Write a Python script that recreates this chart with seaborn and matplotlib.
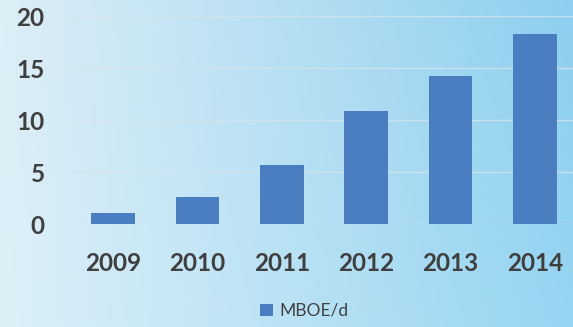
import numpy as np
import pandas as pd
import matplotlib
matplotlib.use("Agg")
import matplotlib.pyplot as plt
import seaborn as sns
from matplotlib.patches import Patch

years = ["2009", "2010", "2011", "2012", "2013", "2014"]
values = [1.1, 2.6, 5.7, 10.9, 14.2, 18.3]
series_name = "MBOE/d"
y_ticks = [0, 5, 10, 15, 20]

sns.set_theme(style="white")
plt.rcParams["font.family"] = ["Lato", "DejaVu Sans"]

df = pd.DataFrame({"year": years, "value": values})

W, H = 573, 327
fig = plt.figure(figsize=(W / 100, H / 100), dpi=100)

# soft light-blue gradient background, brighter toward the right
bg = fig.add_axes([0, 0, 1, 1], zorder=-10)
tl = np.array([0xdd, 0xee, 0xf6]) / 255
tr = np.array([0x8e, 0xcf, 0xef]) / 255
bl = np.array([0xdd, 0xf0, 0xf8]) / 255
br = np.array([0x97, 0xd5, 0xf2]) / 255
u = np.linspace(0, 1, W)[None, :, None]
v = np.linspace(0, 1, H)[:, None, None]
img = (1 - v) * ((1 - u) * tl + u * tr) + v * ((1 - u) * bl + u * br)
bg.imshow(img, aspect="auto", extent=[0, 1, 0, 1])
bg.set_axis_off()

ax = fig.add_axes([71 / W, 103 / H, (577 - 71) / W, (224 - 16) / H])
ax.patch.set_alpha(0)
ax.set_axisbelow(True)

bar_color = "#4a7ec0"
sns.barplot(data=df, x="year", y="value", color=bar_color, width=0.52,
            saturation=1, linewidth=0, ax=ax, zorder=3)

ax.set_ylim(0, 20)
ax.set_xlim(-0.5, len(years) - 0.5)
ax.set_yticks(y_ticks)
ax.yaxis.grid(True, color="#d6e4ea", alpha=0.8, linewidth=1.0, zorder=0)
ax.xaxis.grid(False)
for s in ax.spines.values():
    s.set_visible(False)
ax.set_xlabel("")
ax.set_ylabel("")
ax.tick_params(axis="both", length=0, labelsize=17.5, labelcolor="#3f3f3f")
ax.tick_params(axis="x", pad=20)
ax.tick_params(axis="y", pad=19)
for lab in ax.get_xticklabels() + ax.get_yticklabels():
    lab.set_fontweight("bold")

handle = Patch(facecolor=bar_color, edgecolor="none")
fig.legend([handle], [series_name], loc="center", bbox_to_anchor=(304 / W, 1 - 311 / H),
           frameon=False, fontsize=12.5, handlelength=0.75, handleheight=0.75,
           handletextpad=0.35, labelcolor="#404040")

fig.savefig("out.png", dpi=100)
